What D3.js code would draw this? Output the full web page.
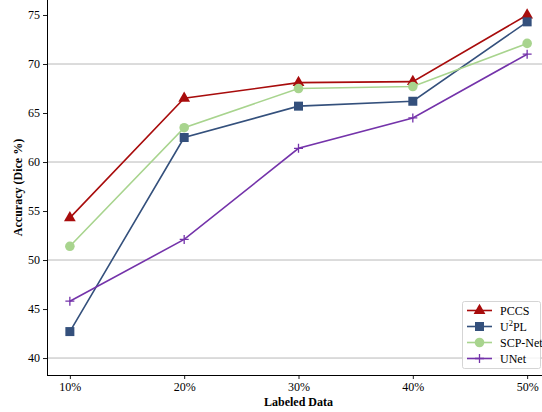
<!DOCTYPE html>
<html><head><meta charset="utf-8">
<script src="https://cdn.jsdelivr.net/npm/d3@7/dist/d3.min.js"></script>
<style>body{margin:0;background:#fff}svg{display:block}text{font-family:"Liberation Serif","Times New Roman",serif}</style>
</head><body>
<svg id="c" width="542" height="412"></svg>
<script>
const categories = ["10%","20%","30%","40%","50%"];
const seriesNames = ["PCCS","U2PL","SCP-Net","UNet"];
const pccs = [54.3, 66.5, 68.1, 68.2, 75.0];
const u2pl = [42.7, 62.5, 65.7, 66.2, 74.3];
const scpnet = [51.4, 63.5, 67.5, 67.7, 72.1];
const unet = [45.8, 52.1, 61.4, 64.5, 71.0];
const yTicks = [40,45,50,55,60,65,70,75];
const yGrid = [40,50,60,70];

const svg = d3.select("#c");
const L=47, B=375, T=0, R=542;
const x = d3.scaleLinear().domain([-0.2, 4.13]).range([L, R]);
const y = d3.scaleLinear().domain([38.27, 76.53]).range([B, T]);

// grid
svg.append("g").selectAll("line").data(yGrid).join("line")
  .attr("x1",L).attr("x2",R).attr("y1",d=>y(d)).attr("y2",d=>y(d))
  .attr("stroke","#b0b0b0").attr("stroke-width",0.9);

// axes
const yAxis = d3.axisLeft(y).tickValues(yTicks).tickSize(4).tickPadding(3).tickFormat(d3.format("d"));
const gy = svg.append("g").attr("transform",`translate(${L},0)`).call(yAxis);
const xAxis = d3.axisBottom(x).tickValues(d3.range(5)).tickSize(4).tickPadding(3).tickFormat(i=>categories[i]);
const gx = svg.append("g").attr("transform",`translate(0,${B})`).call(xAxis);
[gx,gy].forEach(g=>{
  g.selectAll("path").attr("stroke","#000").attr("stroke-width",1);
  g.selectAll("line").attr("stroke","#000").attr("stroke-width",0.9);
  g.selectAll("text").attr("font-size",12).attr("fill","#000").attr("font-family","Liberation Serif");
});
gy.select(".domain").attr("d",`M0.5,${B}V${T}`);
gx.select(".domain").attr("d",`M${L},0.5H${R}`);

svg.append("text").attr("x",x(2)).attr("y",406).attr("text-anchor","middle")
  .attr("font-size",12).attr("font-weight","bold").text("Labeled Data");
svg.append("text").attr("transform",`translate(22,${(T+B)/2}) rotate(-90)`).attr("text-anchor","middle")
  .attr("font-size",12).attr("font-weight","bold").text("Accuracy (Dice %)");

const series = [
  {name:"PCCS", vals:pccs, color:"#a80c0c", marker:"triangle"},
  {name:"U2PL", vals:u2pl, color:"#34507c", marker:"square"},
  {name:"SCP-Net", vals:scpnet, color:"#a8d48e", marker:"circle"},
  {name:"UNet", vals:unet, color:"#7433aa", marker:"plus"}
];
function drawMarker(g, type, cx, cy, color){
  if(type==="triangle") g.append("path").attr("d",d3.symbol(d3.symbolTriangle,60)()).attr("transform",`translate(${cx},${cy})`).attr("fill",color);
  else if(type==="square") g.append("rect").attr("x",cx-4.5).attr("y",cy-4.5).attr("width",9).attr("height",9).attr("fill",color);
  else if(type==="circle") g.append("circle").attr("cx",cx).attr("cy",cy).attr("r",4.8).attr("fill",color);
  else { g.append("path").attr("d",`M${cx-4.5},${cy}H${cx+4.5}M${cx},${cy-4.5}V${cy+4.5}`).attr("stroke",color).attr("stroke-width",1.3); }
}
const line = d3.line().x((d,i)=>x(i)).y(d=>y(d));
series.forEach(s=>{
  const g = svg.append("g");
  g.append("path").attr("d",line(s.vals)).attr("fill","none").attr("stroke",s.color).attr("stroke-width",1.6);
  s.vals.forEach((v,i)=>drawMarker(g,s.marker,x(i),y(v),s.color));
});

// legend
const lg = svg.append("g");
lg.append("rect").attr("x",462.5).attr("y",301.5).attr("width",78).attr("height",67).attr("rx",2)
  .attr("fill","#fff").attr("fill-opacity",0.8).attr("stroke","#d0d0d0").attr("stroke-width",0.9);
series.forEach((s,i)=>{
  const yy = 310.5 + i*16;
  lg.append("line").attr("x1",467).attr("x2",492).attr("y1",yy).attr("y2",yy).attr("stroke",s.color).attr("stroke-width",1.6);
  drawMarker(lg,s.marker,479.5,yy,s.color);
  const t = lg.append("text").attr("x",500).attr("y",yy+4).attr("font-size",12).attr("fill","#000");
  if(s.name==="U2PL"){ t.append("tspan").text("U"); t.append("tspan").attr("dy",-5).attr("font-size",8.5).text("2"); t.append("tspan").attr("dy",5).text("PL"); }
  else t.text(s.name);
});
</script>
</body></html>
